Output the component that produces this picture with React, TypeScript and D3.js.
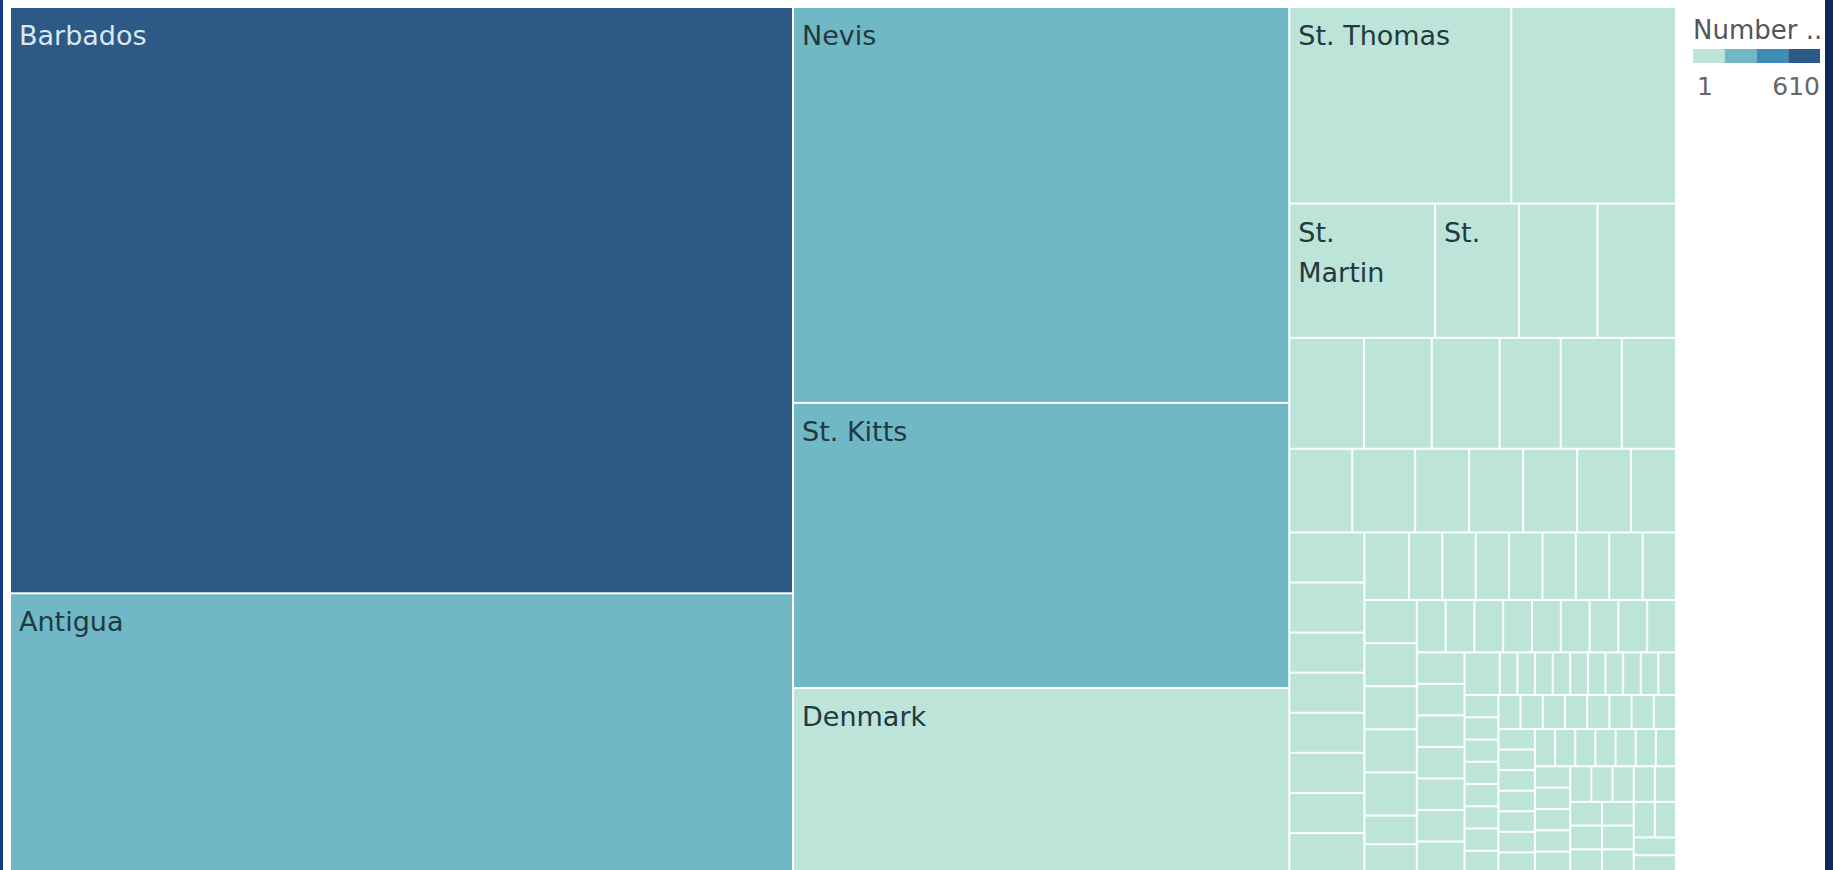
import React from "react";
import * as d3 from "d3";

// ---- data ----
const labeledNames = ["Barbados", "Antigua", "Nevis", "St. Kitts", "Denmark", "St. Thomas", "St. Martin", "St."];
const labeledValues = [610, 291, 261, 188, 122, 58, 26, 15];
const otherValues = [
  43, 14, 14,
  11, 10, 10, 9, 9, 8,
  7, 7, 6, 6, 6, 6, 5,
  5, 5, 4, 4, 4, 4, 4, 4,
  4, 3, 3, 3, 3, 3, 3, 3, 3,
  3, 3, 3, 3, 3,
  2, 2, 2, 2, 2, 2, 2, 2, 2, 2,
  2, 2, 2, 2, 2, 2, 2, 2, 2,
  1, 1, 1, 1, 1, 1, 1, 1, 1, 1,
  1, 1, 1, 1, 1, 1, 1, 1, 1, 1,
  1, 1, 1, 1, 1, 1, 1, 1, 1, 1,
  1, 1, 1, 1, 1, 1, 1, 1, 1, 1,
  1, 1, 1, 1, 1, 1, 1, 1, 1, 1,
  1, 1, 1, 1, 1, 1, 1, 1, 1, 1,
];
const legendTitle = "Number ..";
const legendMin = 1;
const legendMax = 610;
const stepColors = ["#bce4d8", "#71b8c6", "#3f8db6", "#2c5985"];

const W = 1833;
const H = 870;
const TM = { x: 11, y: 8, w: 1664, h: 864 };
const FONT = "'DejaVu Sans', Verdana, sans-serif";
const FS = 27;

let measureCtx: CanvasRenderingContext2D | null = null;
function textWidth(s: string): number {
  if (!measureCtx) {
    const c = document.createElement("canvas");
    measureCtx = c.getContext("2d");
  }
  if (!measureCtx) return s.length * FS * 0.6;
  measureCtx.font = `${FS}px ${FONT}`;
  return measureCtx.measureText(s).width;
}

function wrap(name: string, maxW: number): string[] {
  const words = name.split(" ");
  const lines: string[] = [];
  let cur = "";
  for (const w of words) {
    const test = cur ? cur + " " + w : w;
    if (cur && textWidth(test) > maxW) {
      lines.push(cur);
      cur = w;
    } else cur = test;
  }
  if (cur) lines.push(cur);
  return lines;
}

export default function App() {
  const items = [
    ...labeledNames.map((n, i) => ({ id: "L" + i, name: n, value: labeledValues[i] })),
    ...otherValues.map((v, i) => ({ id: "O" + i, name: "", value: v })),
  ];
  const root = d3
    .hierarchy<any>({ children: items })
    .sum((d: any) => d.value ?? 0)
    .sort((a, b) => (b.value ?? 0) - (a.value ?? 0));
  d3.treemap<any>().tile(d3.treemapSquarify).size([TM.w, TM.h]).paddingInner(2)(root);
  const leaves = root.leaves() as d3.HierarchyRectangularNode<any>[];

  const color = d3.scaleQuantize<string>().domain([legendMin, legendMax]).range(stepColors);

  const lx = 1693;
  const lw = 127;
  const seg = d3.scaleBand<number>().domain(d3.range(stepColors.length)).range([lx, lx + lw]);

  return (
    <svg
      width={W}
      height={H}
      style={{ position: "fixed", left: 0, top: 0, background: "#ffffff" }}
      fontFamily={FONT}
    >
      <rect x={0} y={0} width={W} height={H} fill="#ffffff" />
      <g transform={`translate(${TM.x},${TM.y})`}>
        {leaves.map((l) => (
          <rect
            key={l.data.id}
            x={l.x0}
            y={l.y0}
            width={Math.max(0, l.x1 - l.x0)}
            height={Math.max(0, l.y1 - l.y0)}
            fill={color(l.data.value)}
          />
        ))}
        {leaves
          .filter((l) => l.data.name)
          .map((l) => {
            const cw = l.x1 - l.x0;
            const ch = l.y1 - l.y0;
            const lines = wrap(l.data.name, cw - 20).filter((_, i) => 37 + i * 40 + 8 < ch);
            const dark = color(l.data.value) === stepColors[3];
            return (
              <text
                key={"t" + l.data.id}
                x={l.x0 + 8}
                y={l.y0 + 37}
                fontSize={FS}
                fill={dark ? "#dbe8f2" : "#22393f"}
              >
                {lines.map((s, i) => (
                  <tspan key={i} x={l.x0 + 8} dy={i === 0 ? 0 : 40}>
                    {s}
                  </tspan>
                ))}
              </text>
            );
          })}
      </g>
      {/* legend */}
      <text x={lx} y={39} fontSize={26} fill="#555555">
        {legendTitle}
      </text>
      {stepColors.map((c, i) => (
        <rect key={c} x={seg(i)} y={49} width={seg.bandwidth()} height={14} fill={c} />
      ))}
      <text x={lx + 4} y={95} fontSize={25} fill="#666666">
        {legendMin}
      </text>
      <text x={lx + lw} y={95} fontSize={25} fill="#666666" textAnchor="end">
        {legendMax}
      </text>
      {/* frame strips */}
      <rect x={0} y={0} width={3} height={H} fill="#14398a" />
      <rect x={1825} y={0} width={8} height={H} fill="#0e2a5c" />
    </svg>
  );
}
